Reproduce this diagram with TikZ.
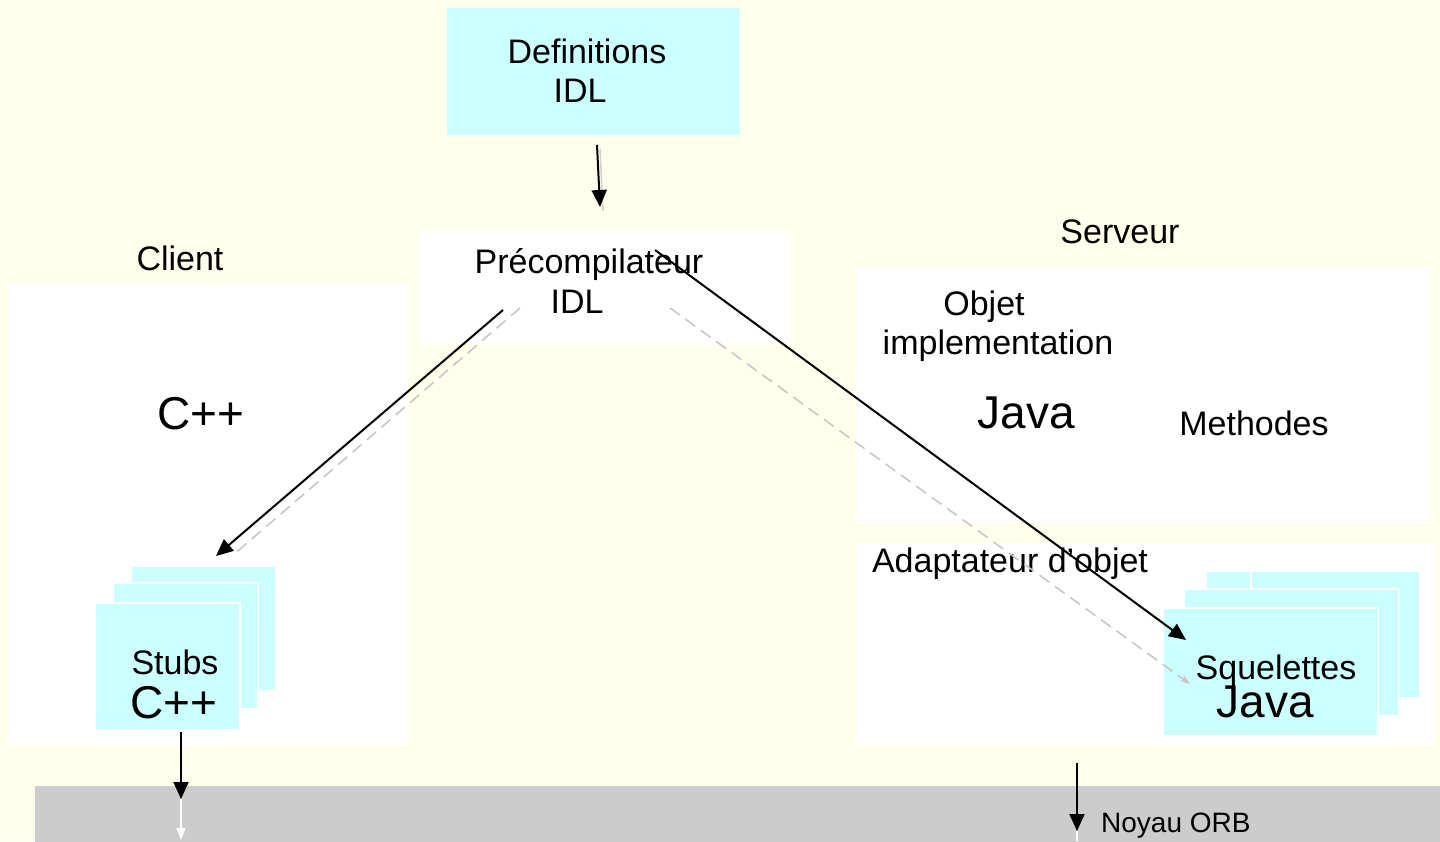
\documentclass[tikz,border=0pt]{standalone}
\usepackage{fontspec}
\setmainfont{Liberation Sans}
\usetikzlibrary{arrows.meta,calc}
\definecolor{bgc}{RGB}{255,255,236}
\definecolor{cy}{RGB}{204,255,255}
\definecolor{orbgray}{RGB}{204,204,204}
\begin{document}
\begin{tikzpicture}[x=1pt,y=-1pt,
  panel/.style={fill=white, draw=none, anchor=north west, inner sep=0pt},
  cyanbox/.style={fill=cy, draw=none, anchor=north west, inner sep=0pt},
  sheet/.style={fill=cy, draw=white, line width=2pt, anchor=north west, inner sep=0pt},
  txt/.style={anchor=base, inner sep=0pt, font=\fontsize{34}{40}\selectfont},
  bigtxt/.style={anchor=base, inner sep=0pt, font=\fontsize{46}{52}\selectfont},
  smalltxt/.style={anchor=base west, inner sep=0pt, font=\fontsize{28}{32}\selectfont},
  arr/.style={draw=black, line width=2pt, -{Triangle[length=17pt,width=15pt]}},
  whitearr/.style={draw=white, line width=2pt, -{Triangle[length=12pt,width=9pt]}},
  ghost/.style={draw=black!22, line width=1.6pt, dash pattern=on 12pt off 7pt},
]
% background
\fill[bgc] (0,0) rectangle (1440,841);
\useasboundingbox (0,0) rectangle (1440,841);

% panels
\node[cyanbox, minimum width=293pt, minimum height=127pt] (defbox) at (447,8) {};
\node[panel, minimum width=373pt, minimum height=112pt] (prebox) at (418,232) {};
\node[panel, minimum width=401pt, minimum height=461pt] (clientbox) at (7,284) {};
\node[panel, minimum width=575pt, minimum height=254pt] (implbox) at (855,268) {};
\node[panel, minimum width=580pt, minimum height=202pt] (adaptbox) at (855,543) {};
\node[fill=orbgray, draw=none, anchor=north west, inner sep=0pt, minimum width=1405pt, minimum height=56pt] (orbbar) at (35,786) {};

% stubs stack
\node[sheet, minimum width=145pt, minimum height=125pt] (stubC) at (130,565) {};
\node[sheet, minimum width=145pt, minimum height=126pt] (stubB) at (112,582) {};
\node[sheet, minimum width=145pt, minimum height=127pt] (stubA) at (94,602) {};

% squelettes stack
\node[sheet, minimum width=214pt, minimum height=127pt] (sqC) at (1205,570) {};
\draw[white, line width=2pt] (1251,571) -- (1251,588);
\node[sheet, minimum width=215pt, minimum height=127pt] (sqB) at (1183,588) {};
\node[sheet, minimum width=215pt, minimum height=128pt] (sqA) at (1162,607) {};

% texts
\node[txt] (tdef) at (587,63) {Definitions};
\node[txt] (tdefidl) at (580,102) {IDL};
\node[txt] (tpre) at (589,273) {Précompilateur};
\node[txt] (tpreidl) at (577,313) {IDL};
\node[txt] (tclient) at (180,270) {Client};
\node[bigtxt] (tcpp) at (201,429) {C++};
\node[txt] (tstubs) at (175,674) {Stubs};
\node[bigtxt] (tstubscpp) at (174,718) {C++};
\node[txt] (tserveur) at (1120,243) {Serveur};
\node[txt] (tobjet) at (984,315) {Objet};
\node[txt] (timpl) at (998,354) {implementation};
\node[bigtxt] (tjava) at (1026,428) {Java};
\node[txt] (tmeth) at (1254,435) {Methodes};
\node[txt] (tadapt) at (1010,572) {Adaptateur d'objet};
\node[txt] (tsq) at (1276,679) {Squelettes};
\node[bigtxt] (tsqjava) at (1265,717) {Java};
\node[smalltxt] (torb) at (1101,832) {Noyau ORB};

% connector end points
\coordinate (d1) at (597,145);
\coordinate (d2) at (600,207);
\coordinate (l1) at (503,310);
\coordinate (l2) at (216,556);
\coordinate (lg1) at (520,308);
\coordinate (lg2) at (232,556);
\coordinate (r1) at (655,250);
\coordinate (r2) at (1186,640);
\coordinate (rg1) at (670,308);
\coordinate (rg2) at (1190,684);
\coordinate (s1) at (181,732);
\coordinate (s2) at (181,799);
\coordinate (s3) at (181,840);
\coordinate (n1) at (1077,763);
\coordinate (n2) at (1077,831);
\coordinate (n3) at (1077,841);

% ghost (shadow) connectors
\draw[ghost] (lg1) -- (lg2);
\draw[ghost, -{Stealth[length=10pt,width=7pt]}] (rg1) -- (rg2);
\draw[black!18, line width=1.5pt] ($(d1)+(3,4)$) -- ($(d2)+(3,4)$);

% connectors
\draw[arr] (d1) -- (d2);
\draw[arr] (l1) -- (l2);
\draw[arr] (r1) -- (r2);
\draw[arr] (s1) -- (s2);
\draw[whitearr] (s2) -- (s3);
\draw[arr] (n1) -- (n2);
\draw[white, line width=2pt] (n2) -- (n3);
\end{tikzpicture}
\end{document}
